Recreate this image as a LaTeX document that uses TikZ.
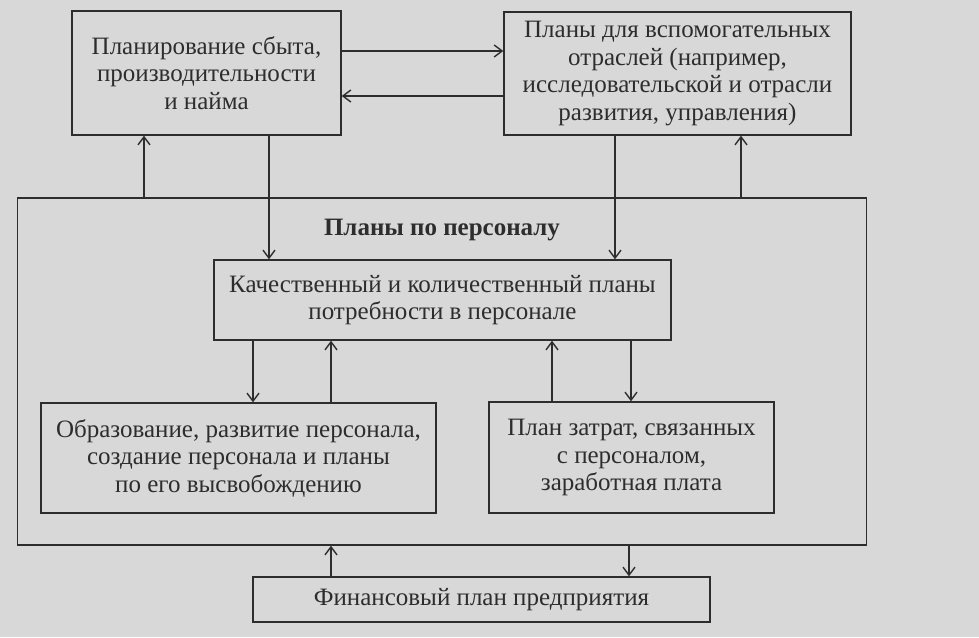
\documentclass[tikz,border=0pt]{standalone}
\usepackage{fontspec}
\setmainfont{Liberation Serif}
\usetikzlibrary{arrows.meta,positioning,calc}

\definecolor{paper}{RGB}{216,216,216}
\definecolor{ink}{RGB}{45,45,45}

\begin{document}
\begin{tikzpicture}[
    x=1pt, y=-1pt,
    plan/.style={rectangle, draw=ink, line width=1.4pt, text=ink, align=center, inner sep=0pt,
        font=\fontsize{25}{27.5}\selectfont},
    arrow/.style={-{Straight Barb[length=8pt, width=12pt, line width=1.4pt]}, draw=ink, line width=1.4pt}
]
\fill[paper] (0,0) rectangle (979,637);
\useasboundingbox (0,0) rectangle (979,637);

% Boxes
\node[plan, minimum width=269pt, minimum height=124pt] (sales) at (206.5,73) {Планирование сбыта,\\производительности\\и найма};
\node[plan, minimum width=347pt, minimum height=123pt] (aux) at (677.5,73.5) {Планы для вспомогательных\\отраслей (например,\\исследовательской и отрасли\\развития, управления)};
\node[plan, minimum width=849pt, minimum height=347pt] (staff) at (442,371.5) {};
\node[text=ink, font=\fontsize{25}{27.5}\selectfont\bfseries] (title) at (442,230) {Планы по персоналу};
\node[plan, minimum width=457pt, minimum height=80pt] (need) at (442.5,300) {Качественный и количественный планы\\потребности в персонале};
\node[plan, minimum width=395pt, minimum height=110pt] (edu) at (238.5,458) {Образование, развитие персонала,\\создание персонала и планы\\по его высвобождению};
\node[plan, minimum width=285pt, minimum height=111pt] (cost) at (631.5,457.5) {План затрат, связанных\\с персоналом,\\заработная плата};
\node[plan, minimum width=457pt, minimum height=45pt] (fin) at (481.5,599.5) {Финансовый план предприятия};

% Arrow positions
\coordinate (x1) at (144,0);
\coordinate (x2) at (269,0);
\coordinate (x3) at (615,0);
\coordinate (x4) at (741,0);
\coordinate (x5) at (253,0);
\coordinate (x6) at (331,0);
\coordinate (x7) at (552,0);
\coordinate (x8) at (631,0);
\coordinate (x9) at (629,0);
\coordinate (y1) at (0,51);
\coordinate (y2) at (0,96);

% Arrows
\draw[arrow] (sales.east |- y1) -- (aux.west |- y1);
\draw[arrow] (aux.west |- y2) -- (sales.east |- y2);
\draw[arrow] (staff.north -| x1) -- (sales.south -| x1);
\draw[arrow] (sales.south -| x2) -- (need.north -| x2);
\draw[arrow] (aux.south -| x3) -- (need.north -| x3);
\draw[arrow] (staff.north -| x4) -- (aux.south -| x4);
\draw[arrow] (need.south -| x5) -- (edu.north -| x5);
\draw[arrow] (edu.north -| x6) -- (need.south -| x6);
\draw[arrow] (cost.north -| x7) -- (need.south -| x7);
\draw[arrow] (need.south -| x8) -- (cost.north -| x8);
\draw[arrow] (fin.north -| x6) -- (staff.south -| x6);
\draw[arrow] (staff.south -| x9) -- (fin.north -| x9);
\end{tikzpicture}
\end{document}
